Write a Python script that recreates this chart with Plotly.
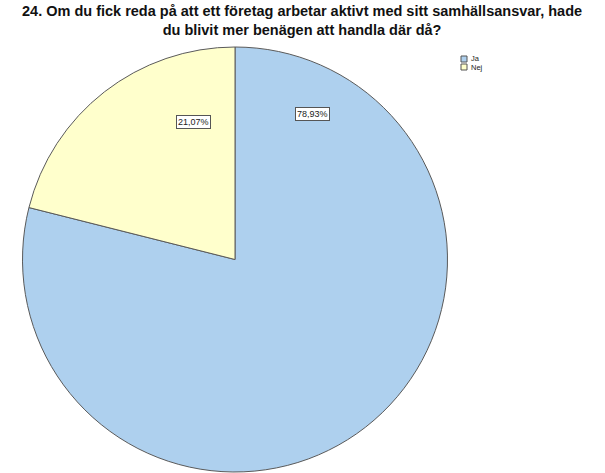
import plotly.graph_objects as go

labels = ["Ja", "Nej"]
values = [78.93, 21.07]
colors = ["#aed0ee", "#ffffcc"]
title_lines = [
    "24. Om du fick reda på att ett företag arbetar aktivt med sitt samhällsansvar, hade",
    "du blivit mer benägen att handla där då?",
]

W, H = 605, 473
FONT = "Arial, Liberation Sans, sans-serif"


def px(x):
    return x / W


def py(y):
    return 1 - y / H


# value label box centres (pixels from top-left)
label_centres = [(312, 114), (194, 122)]

fig = go.Figure()
fig.add_trace(go.Pie(
    labels=labels,
    values=values,
    sort=False,
    direction="clockwise",
    rotation=0,
    textinfo="none",
    hoverinfo="label+percent",
    showlegend=False,
    marker=dict(colors=colors, line=dict(color="#5a5a5a", width=1)),
    domain=dict(x=[px(21), px(449)], y=[py(472), py(47)]),
))

# boxed percentage labels
for v, (cx, cy) in zip(values, label_centres):
    fig.add_annotation(
        x=px(cx), y=py(cy), xref="paper", yref="paper",
        xanchor="center", yanchor="middle",
        text=f"{v:.2f}%".replace(".", ","),
        showarrow=False,
        font=dict(family=FONT, size=9, color="#222222"),
        bgcolor="white",
        bordercolor="#555555",
        borderwidth=1,
        borderpad=1,
    )

# title: two centred lines in one block
fig.add_annotation(
    x=px(302), y=py(1), xref="paper", yref="paper",
    xanchor="center", yanchor="top",
    text="<b>" + "<br>".join(title_lines) + "</b>", showarrow=False,
    font=dict(family=FONT, size=14.5, color="#111111"),
)

# compact legend: swatch + category name
for i, (lab, col) in enumerate(zip(labels, colors)):
    top = 56 + i * 8
    fig.add_shape(
        type="rect", xref="paper", yref="paper",
        x0=px(461), x1=px(467), y0=py(top + 6), y1=py(top),
        fillcolor=col, line=dict(color="#555555", width=1),
    )
    fig.add_annotation(
        x=px(469), y=py(top + 3), xref="paper", yref="paper",
        xanchor="left", yanchor="middle",
        text=lab, showarrow=False,
        font=dict(family=FONT, size=7.5, color="#222222"),
    )

fig.update_layout(
    width=W, height=H,
    margin=dict(l=0, r=0, t=0, b=0),
    paper_bgcolor="white",
    plot_bgcolor="white",
)

fig.write_html("out.html")
